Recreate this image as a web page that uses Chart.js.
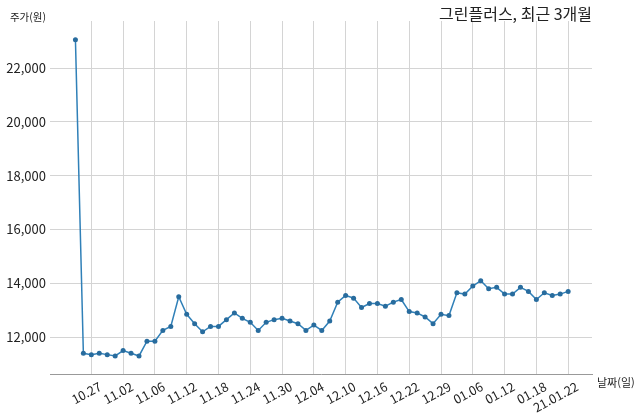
<!DOCTYPE html>
<html lang="ko">
<head>
<meta charset="utf-8">
<title>그린플러스, 최근 3개월</title>
<script src="https://cdn.jsdelivr.net/npm/chart.js@4.4.1/dist/chart.umd.min.js"></script>
<style>
  html, body { margin: 0; padding: 0; background: #fff; }
  #grafica { width: 640px; height: 414px; }
</style>
</head>
<body>
<div id="grafica"><canvas id="lineChart" width="640" height="414"></canvas></div>
<script>
const titulo = '그린플러스, 최근 3개월';
const ejeY = '주가(원)';
const ejeX = '날짜(일)';

// trading days, 2020.10.23 ~ 2021.01.22
const fechas = [
  '10.23', '10.26', '10.27', '10.28', '10.29', '10.30',
  '11.02', '11.03', '11.04', '11.05', '11.06',
  '11.09', '11.10', '11.11', '11.12', '11.13',
  '11.16', '11.17', '11.18', '11.19', '11.20',
  '11.23', '11.24', '11.25', '11.26', '11.27',
  '11.30', '12.01', '12.02', '12.03', '12.04',
  '12.07', '12.08', '12.09', '12.10', '12.11',
  '12.14', '12.15', '12.16', '12.17', '12.18',
  '12.21', '12.22', '12.23', '12.24',
  '12.28', '12.29', '12.30',
  '01.04', '01.05', '01.06', '01.07', '01.08',
  '01.11', '01.12', '01.13', '01.14', '01.15',
  '01.18', '01.19', '01.20', '01.21', '21.01.22'
];

const precios = [
  23050, 11400, 11350, 11400, 11350, 11300,
  11500, 11400, 11300, 11850, 11850,
  12250, 12400, 13500, 12850, 12500,
  12200, 12400, 12400, 12650, 12900,
  12700, 12550, 12250, 12550, 12650,
  12700, 12600, 12500, 12250, 12450,
  12250, 12600, 13300, 13550, 13450,
  13100, 13250, 13250, 13150, 13300,
  13400, 12950, 12900, 12750,
  12500, 12850, 12800,
  13650, 13600, 13900, 14100, 13800,
  13850, 13600, 13600, 13850, 13700,
  13400, 13650, 13550, 13600, 13700
];

const fechasEje = [
  '10.27', '11.02', '11.06', '11.12', '11.18', '11.24', '11.30', '12.04',
  '12.10', '12.16', '12.22', '12.29', '01.06', '01.12', '01.18', '21.01.22'
];

const preciosEje = [12000, 14000, 16000, 18000, 20000, 22000];

document.addEventListener('DOMContentLoaded', () => {
  const fuente = '"Noto Sans CJK KR", "Noto Sans", sans-serif';
  const posiciones = fechasEje.map(f => fechas.indexOf(f));

  const textos = {
    id: 'textos',
    afterDraw(chart) {
      const { ctx, chartArea } = chart;
      ctx.save();
      ctx.fillStyle = '#222';
      ctx.textBaseline = 'middle';

      ctx.font = `16px ${fuente}`;
      ctx.textAlign = 'right';
      ctx.fillText(titulo, chartArea.right, 14);

      ctx.font = `10.5px ${fuente}`;
      ctx.textAlign = 'center';
      ctx.fillText(ejeY, 28, 17);

      ctx.font = `11px ${fuente}`;
      ctx.textAlign = 'left';
      ctx.fillText(ejeX, chartArea.right + 5, chartArea.bottom + 9);
      ctx.restore();
    }
  };

  const data = {
    datasets: [{
      label: '주가',
      data: precios.map((p, i) => ({ x: i, y: p })),
      borderColor: 'rgb(48, 128, 184)',
      borderWidth: 1.5,
      pointRadius: 2.5,
      pointBorderWidth: 0,
      pointBackgroundColor: 'rgb(40, 108, 158)',
      tension: 0
    }]
  };

  const config = {
    type: 'line',
    data: data,
    options: {
      responsive: false,
      animation: false,
      layout: { padding: { top: 21, right: 48, bottom: 0, left: 0 } },
      scales: {
        x: {
          type: 'linear',
          min: -3.2,
          max: 65,
          afterBuildTicks: (axis) => { axis.ticks = posiciones.map(v => ({ value: v })); },
          afterFit: (axis) => { axis.height = 40; },
          grid: { color: '#d4d4d4', drawTicks: false },
          border: { display: true, color: '#999', width: 1 },
          ticks: {
            autoSkip: false,
            minRotation: 28,
            maxRotation: 28,
            padding: 5,
            labelOffset: 9,
            color: '#222',
            font: { family: fuente, size: 12.5 },
            callback: (value) => fechas[value]
          }
        },
        y: {
          min: 10630,
          max: 23750,
          afterBuildTicks: (axis) => { axis.ticks = preciosEje.map(v => ({ value: v })); },
          afterFit: (axis) => { axis.width = 50; },
          grid: { color: '#d4d4d4', drawTicks: false },
          border: { display: false },
          ticks: {
            padding: 4,
            color: '#222',
            font: { family: fuente, size: 13 },
            callback: (value) => value.toLocaleString('en-US')
          }
        }
      },
      plugins: {
        legend: { display: false },
        tooltip: { enabled: false }
      }
    },
    plugins: [textos]
  };

  new Chart(document.getElementById('lineChart'), config);
});
</script>
</body>
</html>
